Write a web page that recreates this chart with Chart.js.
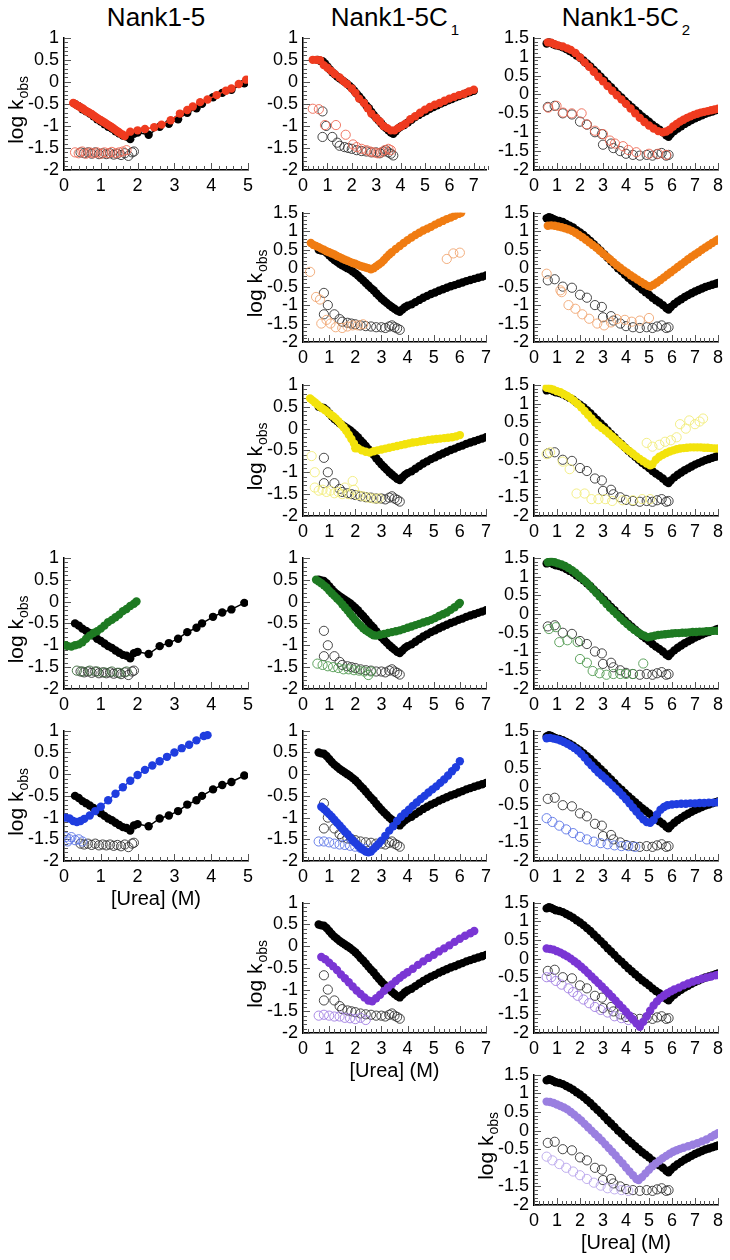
<!DOCTYPE html>
<html>
<head>
<meta charset="utf-8">
<script src="https://cdn.jsdelivr.net/npm/chart.js@4.4.1/dist/chart.umd.min.js"></script>
<style>
  body { margin: 0; background: #fff; }
  #page { position: relative; width: 730px; height: 1260px; overflow: hidden;
          font-family: "Liberation Sans", Arial, sans-serif; }
  .head { position: absolute; top: 0; width: 184px; text-align: center;
          font-size: 26px; line-height: 34px; color: #000; }
  .head span { font-size: 15px; vertical-align: -9px; margin-left: 3px; }
  canvas { position: absolute; }
</style>
</head>
<body>
<div id="page">
  <div class="head" style="left:64px">Nank1-5</div>
  <div class="head" style="left:303px">Nank1-5C<span>1</span></div>
  <div class="head" style="left:534px">Nank1-5C<span>2</span></div>
</div>
<script>
// ---- reference proteins (black), one per column ----
const nank15Fill = [[0.3,-0.5],[0.4,-0.55],[0.5,-0.62],[0.6,-0.67],[0.7,-0.72],[0.8,-0.78],[0.9,-0.85],[1.0,-0.9],[1.1,-0.96],[1.2,-1.02],[1.3,-1.06],[1.4,-1.12],[1.5,-1.17],[1.6,-1.22],[1.7,-1.24],[1.8,-1.3],[1.9,-1.18],[2.0,-1.15],[2.3,-1.2],[2.6,-1.02],[2.85,-0.95],[3.1,-0.85],[3.35,-0.7],[3.6,-0.6],[3.75,-0.5],[4.05,-0.35],[4.3,-0.25],[4.55,-0.18],[4.9,-0.03]];
const nank15Open = [[0.45,-1.6],[0.55,-1.62],[0.65,-1.6],[0.75,-1.63],[0.85,-1.6],[0.95,-1.64],[1.05,-1.62],[1.15,-1.64],[1.25,-1.62],[1.35,-1.65],[1.45,-1.63],[1.55,-1.66],[1.65,-1.62],[1.75,-1.68],[1.85,-1.6],[1.9,-1.58]];
const c1Fill = [[0.6,0.5],[0.7,0.48],[0.8,0.47],[0.9,0.42],[1.0,0.35],[1.1,0.28],[1.2,0.22],[1.3,0.17],[1.4,0.12],[1.5,0.08],[1.6,0.04],[1.7,0.0],[1.8,-0.04],[1.9,-0.09],[2.0,-0.14],[2.1,-0.2],[2.2,-0.27],[2.3,-0.33],[2.4,-0.4],[2.5,-0.47],[2.6,-0.54],[2.7,-0.6],[2.8,-0.68],[2.9,-0.75],[3.0,-0.82],[3.1,-0.88],[3.2,-0.94],[3.3,-1.0],[3.4,-1.05],[3.5,-1.1],[3.6,-1.15],[3.7,-1.18],[3.8,-1.12],[3.9,-1.06],[4.0,-1.02],[4.15,-0.98],[4.3,-0.92],[4.45,-0.86],[4.6,-0.8],[4.75,-0.75],[4.9,-0.7],[5.05,-0.66],[5.2,-0.61],[5.35,-0.57],[5.5,-0.53],[5.65,-0.49],[5.8,-0.46],[5.95,-0.42],[6.1,-0.39],[6.25,-0.35],[6.4,-0.32],[6.55,-0.29],[6.7,-0.26],[6.85,-0.23],[7.0,-0.2]];
const c1Open = [[0.8,-0.67],[0.95,-1.0],[0.8,-1.25],[1.2,-1.25],[1.4,-1.38],[1.5,-1.45],[1.7,-1.48],[1.85,-1.5],[2.0,-1.52],[2.2,-1.55],[2.4,-1.57],[2.6,-1.58],[2.8,-1.6],[3.0,-1.6],[3.15,-1.62],[3.3,-1.58],[3.4,-1.55],[3.5,-1.6],[3.6,-1.63],[3.7,-1.67]];
const c2Fill = [[0.55,1.35],[0.65,1.38],[0.75,1.36],[0.85,1.33],[0.95,1.3],[1.1,1.28],[1.25,1.25],[1.4,1.2],[1.55,1.15],[1.7,1.1],[1.85,1.03],[2.0,0.97],[2.15,0.9],[2.3,0.82],[2.45,0.74],[2.6,0.65],[2.75,0.56],[2.9,0.47],[3.05,0.38],[3.2,0.28],[3.35,0.19],[3.5,0.1],[3.65,0.0],[3.8,-0.08],[3.95,-0.17],[4.1,-0.26],[4.25,-0.34],[4.4,-0.42],[4.55,-0.5],[4.7,-0.58],[4.85,-0.65],[5.0,-0.72],[5.15,-0.8],[5.3,-0.87],[5.45,-0.93],[5.6,-1.0],[5.75,-1.08],[5.85,-1.12],[5.95,-1.05],[6.1,-0.97],[6.25,-0.9],[6.4,-0.84],[6.55,-0.78],[6.7,-0.73],[6.85,-0.68],[7.0,-0.63],[7.15,-0.59],[7.3,-0.55],[7.45,-0.51],[7.6,-0.48],[7.75,-0.45],[7.9,-0.42],[8.0,-0.4]];
const c2Open = [[0.6,-0.33],[0.9,-0.3],[1.25,-0.5],[1.65,-0.53],[2.0,-0.72],[2.3,-0.8],[2.65,-1.0],[2.95,-1.05],[3.0,-1.33],[3.35,-1.3],[3.45,-1.42],[3.75,-1.5],[4.0,-1.57],[4.3,-1.6],[4.6,-1.62],[4.9,-1.6],[5.15,-1.62],[5.35,-1.58],[5.55,-1.55],[5.75,-1.62],[5.85,-1.6]];

// ---- variants (coloured) ----
const redA = [[0.25,-0.48],[0.3,-0.5],[0.35,-0.53],[0.4,-0.55],[0.45,-0.58],[0.5,-0.6],[0.55,-0.63],[0.6,-0.66],[0.65,-0.68],[0.7,-0.71],[0.75,-0.73],[0.8,-0.76],[0.85,-0.79],[0.9,-0.82],[0.95,-0.85],[1.0,-0.87],[1.05,-0.9],[1.1,-0.92],[1.15,-0.95],[1.2,-0.98],[1.25,-1.0],[1.3,-1.03],[1.35,-1.06],[1.4,-1.09],[1.45,-1.12],[1.5,-1.15],[1.55,-1.18],[1.6,-1.2],[1.65,-1.23],[1.8,-1.13],[2.0,-1.1],[2.2,-1.07],[2.45,-1.03],[2.65,-0.97],[2.9,-0.87],[3.15,-0.72],[3.35,-0.64],[3.5,-0.56],[3.7,-0.46],[3.9,-0.4],[4.15,-0.3],[4.4,-0.2],[4.55,-0.15],[4.75,-0.05],[4.95,0.05]];
const redAOpen = [[0.3,-1.6],[0.4,-1.62],[0.5,-1.58],[0.6,-1.63],[0.7,-1.6],[0.8,-1.62],[0.9,-1.6],[1.0,-1.63],[1.1,-1.6],[1.2,-1.62],[1.3,-1.59],[1.4,-1.62],[1.5,-1.6],[1.6,-1.58],[1.7,-1.55]];
const redB = [[0.4,0.5],[0.55,0.5],[0.7,0.49],[0.85,0.38],[1.0,0.32],[1.15,0.25],[1.3,0.18],[1.5,0.1],[1.65,0.02],[1.8,-0.05],[2.0,-0.15],[2.15,-0.25],[2.3,-0.38],[2.5,-0.48],[2.65,-0.6],[2.8,-0.72],[3.0,-0.82],[3.15,-0.9],[3.3,-1.0],[3.45,-1.05],[3.6,-1.1],[3.75,-1.1],[3.9,-1.05],[4.05,-1.0],[4.2,-0.95],[4.4,-0.85],[4.6,-0.78],[4.8,-0.7],[5.0,-0.63],[5.2,-0.57],[5.4,-0.52],[5.6,-0.48],[5.8,-0.43],[6.0,-0.38],[6.2,-0.34],[6.4,-0.3],[6.6,-0.27],[6.8,-0.22],[7.0,-0.18]];
const redBOpen = [[0.4,-0.61],[0.65,-0.62],[0.9,-0.98],[1.35,-0.98],[1.75,-1.2],[2.05,-1.42],[2.2,-1.48],[2.4,-1.52],[2.6,-1.55],[2.75,-1.58],[2.9,-1.6],[3.05,-1.62],[3.2,-1.6],[3.35,-1.55],[3.5,-1.52],[3.6,-1.55]];
const redC = [[0.6,1.38],[0.75,1.37],[0.9,1.33],[1.05,1.3],[1.25,1.27],[1.45,1.22],[1.6,1.18],[1.8,1.1],[2.0,0.98],[2.2,0.85],[2.4,0.73],[2.6,0.6],[2.8,0.47],[3.0,0.35],[3.2,0.22],[3.4,0.1],[3.6,-0.02],[3.8,-0.13],[4.0,-0.25],[4.2,-0.37],[4.4,-0.5],[4.6,-0.62],[4.8,-0.73],[5.0,-0.82],[5.2,-0.9],[5.4,-0.97],[5.6,-1.0],[5.75,-0.98],[5.9,-0.93],[6.05,-0.85],[6.2,-0.78],[6.35,-0.72],[6.5,-0.67],[6.65,-0.62],[6.8,-0.58],[6.95,-0.54],[7.1,-0.51],[7.25,-0.48],[7.4,-0.46],[7.55,-0.44],[7.7,-0.42],[7.85,-0.4],[8.0,-0.38]];
const redCOpen = [[0.62,-0.35],[0.98,-0.3],[1.27,-0.48],[1.64,-0.5],[2.07,-0.5],[2.29,-0.79],[2.65,-0.96],[3.0,-1.05],[3.3,-1.22],[3.52,-1.3],[3.87,-1.37],[4.1,-1.47],[4.45,-1.53],[5.0,-1.57],[5.4,-1.57],[5.75,-1.6]];

const orangeB = [[0.3,0.68],[0.4,0.63],[0.5,0.6],[0.6,0.57],[0.7,0.53],[0.8,0.5],[0.9,0.46],[1.0,0.43],[1.1,0.4],[1.2,0.37],[1.3,0.33],[1.4,0.3],[1.5,0.26],[1.6,0.23],[1.7,0.2],[1.8,0.17],[1.9,0.14],[2.0,0.12],[2.1,0.09],[2.2,0.06],[2.3,0.04],[2.4,0.02],[2.5,0.0],[2.6,-0.03],[2.7,0.0],[2.8,0.05],[2.9,0.1],[3.0,0.15],[3.1,0.22],[3.2,0.3],[3.3,0.37],[3.4,0.43],[3.55,0.52],[3.7,0.6],[3.85,0.68],[4.0,0.76],[4.15,0.83],[4.3,0.9],[4.45,0.96],[4.6,1.02],[4.75,1.07],[4.9,1.12],[5.05,1.18],[5.2,1.23],[5.35,1.28],[5.5,1.33],[5.65,1.37],[5.8,1.42],[5.95,1.47],[6.05,1.5]];
const orangeBOpen = [[0.27,-0.1],[0.5,-0.78],[0.65,-0.85],[0.7,-1.5],[0.9,-1.4],[1.05,-1.5],[1.25,-1.6],[1.5,-1.62],[1.7,-1.58],[1.9,-1.55],[2.1,-1.55],[2.3,-1.52],[5.5,0.25],[5.75,0.4],[6.0,0.42]];
const orangeC = [[0.6,1.15],[0.75,1.16],[0.9,1.15],[1.05,1.13],[1.2,1.11],[1.35,1.08],[1.5,1.05],[1.65,1.01],[1.8,0.96],[1.95,0.9],[2.1,0.84],[2.25,0.77],[2.4,0.7],[2.55,0.63],[2.7,0.56],[2.85,0.48],[3.0,0.4],[3.15,0.32],[3.3,0.24],[3.45,0.16],[3.6,0.08],[3.75,0.01],[3.9,-0.06],[4.05,-0.12],[4.2,-0.19],[4.35,-0.25],[4.5,-0.31],[4.65,-0.37],[4.8,-0.43],[4.95,-0.48],[5.05,-0.5],[5.2,-0.45],[5.35,-0.39],[5.5,-0.32],[5.65,-0.25],[5.8,-0.18],[5.95,-0.11],[6.1,-0.04],[6.25,0.03],[6.4,0.1],[6.55,0.17],[6.7,0.24],[6.85,0.31],[7.0,0.37],[7.15,0.43],[7.3,0.5],[7.45,0.56],[7.6,0.62],[7.75,0.68],[7.9,0.74],[8.0,0.78]];
const orangeCOpen = [[0.55,-0.15],[1.15,-0.6],[1.2,-0.65],[1.5,-1.0],[1.8,-1.1],[2.1,-1.25],[2.4,-1.37],[2.75,-1.5],[3.05,-1.55],[3.35,-1.47],[3.6,-1.38],[3.95,-1.4],[4.25,-1.45],[4.6,-1.42],[5.0,-1.35]];

const yellowB = [[0.27,0.69],[0.35,0.65],[0.45,0.6],[0.55,0.55],[0.65,0.5],[0.75,0.46],[0.85,0.42],[0.95,0.37],[1.05,0.32],[1.15,0.28],[1.25,0.23],[1.35,0.17],[1.45,0.1],[1.55,0.03],[1.65,-0.05],[1.75,-0.14],[1.85,-0.24],[1.95,-0.34],[2.0,-0.45],[2.1,-0.45],[2.25,-0.5],[2.4,-0.53],[2.55,-0.55],[2.7,-0.52],[2.85,-0.5],[3.0,-0.48],[3.15,-0.46],[3.3,-0.44],[3.45,-0.42],[3.6,-0.4],[3.75,-0.38],[3.9,-0.36],[4.05,-0.34],[4.2,-0.32],[4.35,-0.31],[4.5,-0.29],[4.65,-0.28],[4.8,-0.26],[4.95,-0.25],[5.1,-0.24],[5.25,-0.23],[5.4,-0.22],[5.55,-0.21],[5.7,-0.2],[5.85,-0.18],[6.0,-0.15]];
const yellowBOpen = [[0.33,-0.63],[0.45,-1.0],[0.45,-1.35],[0.6,-1.42],[0.75,-1.4],[0.9,-1.45],[1.05,-1.42],[1.2,-1.48],[1.35,-1.45],[1.5,-1.5],[1.6,-1.35],[1.75,-1.5],[1.9,-1.2],[1.95,-1.4],[2.1,-1.52],[2.3,-1.55],[2.5,-1.58],[2.7,-1.6],[2.9,-1.6]];
const yellowC = [[0.55,1.42],[0.7,1.4],[0.85,1.37],[1.0,1.33],[1.15,1.3],[1.3,1.25],[1.45,1.2],[1.6,1.14],[1.75,1.07],[1.9,0.99],[2.05,0.9],[2.2,0.8],[2.35,0.7],[2.5,0.6],[2.65,0.5],[2.8,0.42],[2.95,0.35],[3.1,0.28],[3.25,0.2],[3.4,0.12],[3.55,0.04],[3.7,-0.04],[3.85,-0.12],[4.0,-0.2],[4.15,-0.27],[4.3,-0.34],[4.45,-0.41],[4.6,-0.48],[4.75,-0.54],[4.9,-0.6],[5.05,-0.65],[5.15,-0.62],[5.3,-0.5],[5.45,-0.42],[5.6,-0.37],[5.75,-0.32],[5.9,-0.28],[6.05,-0.25],[6.2,-0.22],[6.35,-0.2],[6.5,-0.19],[6.65,-0.18],[6.8,-0.17],[6.95,-0.17],[7.1,-0.17],[7.25,-0.17],[7.4,-0.18],[7.55,-0.18],[7.7,-0.19],[7.85,-0.2],[8.0,-0.2]];
const yellowCOpen = [[0.55,-0.35],[0.7,-0.3],[1.25,-0.55],[1.55,-0.75],[1.85,-1.4],[2.2,-1.4],[2.5,-1.55],[2.8,-1.55],[3.1,-1.55],[3.4,-1.6],[3.85,-1.58],[4.3,-1.58],[4.7,-1.55],[5.05,-1.55],[4.9,-0.05],[5.15,-0.15],[5.45,-0.1],[5.7,-0.02],[5.95,0.02],[6.2,0.1],[6.35,0.45],[6.6,0.33],[6.75,0.55],[7.0,0.45],[7.2,0.52],[7.35,0.6]];

const greenA = [[0.05,-1.0],[0.1,-1.02],[0.2,-1.03],[0.3,-1.0],[0.4,-0.98],[0.5,-0.93],[0.6,-0.85],[0.7,-0.78],[0.8,-0.72],[0.9,-0.68],[1.0,-0.62],[1.1,-0.55],[1.2,-0.47],[1.3,-0.42],[1.4,-0.36],[1.5,-0.3],[1.6,-0.22],[1.7,-0.17],[1.8,-0.1],[1.9,-0.05],[1.97,0.0]];
const greenAOpen = [[0.35,-1.58],[0.5,-1.6],[0.7,-1.58],[0.9,-1.6],[1.1,-1.62],[1.3,-1.6],[1.5,-1.63],[1.7,-1.6]];
const greenB = [[0.5,0.5],[0.6,0.46],[0.7,0.42],[0.8,0.37],[0.9,0.32],[1.0,0.25],[1.1,0.19],[1.2,0.13],[1.3,0.07],[1.4,0.01],[1.5,-0.06],[1.6,-0.13],[1.7,-0.2],[1.8,-0.28],[1.9,-0.35],[2.0,-0.42],[2.1,-0.49],[2.2,-0.55],[2.3,-0.61],[2.4,-0.66],[2.5,-0.7],[2.6,-0.74],[2.7,-0.77],[2.8,-0.78],[2.95,-0.76],[3.1,-0.74],[3.25,-0.72],[3.4,-0.7],[3.55,-0.68],[3.7,-0.66],[3.85,-0.63],[4.0,-0.6],[4.15,-0.57],[4.3,-0.54],[4.45,-0.51],[4.6,-0.48],[4.75,-0.45],[4.9,-0.42],[5.05,-0.38],[5.2,-0.33],[5.35,-0.29],[5.5,-0.25],[5.65,-0.19],[5.8,-0.13],[5.95,-0.06],[6.0,-0.03]];
const greenBOpen = [[0.55,-1.42],[0.75,-1.45],[0.95,-1.48],[1.15,-1.5],[1.35,-1.52],[1.55,-1.55],[1.75,-1.55],[1.95,-1.57],[2.15,-1.58],[2.35,-1.6],[2.5,-1.68],[2.6,-1.6]];
const greenC = [[0.6,1.38],[0.75,1.4],[0.9,1.38],[1.05,1.35],[1.2,1.32],[1.35,1.28],[1.5,1.23],[1.65,1.17],[1.8,1.1],[1.95,1.02],[2.1,0.94],[2.25,0.86],[2.4,0.77],[2.55,0.67],[2.7,0.57],[2.85,0.47],[3.0,0.37],[3.15,0.27],[3.3,0.17],[3.45,0.08],[3.6,-0.01],[3.75,-0.1],[3.9,-0.19],[4.05,-0.27],[4.2,-0.35],[4.35,-0.42],[4.5,-0.48],[4.65,-0.54],[4.8,-0.58],[4.95,-0.62],[5.1,-0.6],[5.25,-0.58],[5.4,-0.56],[5.55,-0.55],[5.7,-0.54],[5.85,-0.53],[6.0,-0.52],[6.15,-0.51],[6.3,-0.51],[6.45,-0.5],[6.6,-0.5],[6.75,-0.49],[6.9,-0.48],[7.05,-0.48],[7.2,-0.47],[7.35,-0.47],[7.5,-0.46],[7.65,-0.46],[7.8,-0.45],[7.95,-0.45]];
const greenCOpen = [[0.65,-0.4],[0.95,-0.35],[1.1,-0.75],[1.45,-0.7],[1.9,-0.75],[2.0,-1.2],[2.3,-1.3],[2.55,-1.52],[2.85,-1.58],[3.15,-1.62],[3.45,-1.6],[3.75,-1.6],[4.0,-1.6],[4.3,-1.6],[4.75,-1.32]];

const blueA = [[0.05,-1.0],[0.15,-1.02],[0.25,-1.08],[0.35,-1.1],[0.45,-1.08],[0.55,-1.03],[0.7,-0.95],[0.85,-0.85],[1.0,-0.75],[1.2,-0.6],[1.4,-0.45],[1.6,-0.3],[1.8,-0.15],[2.0,-0.02],[2.2,0.1],[2.4,0.2],[2.6,0.3],[2.8,0.4],[3.0,0.5],[3.2,0.6],[3.4,0.68],[3.6,0.78],[3.8,0.88],[3.9,0.9]];
const blueAOpen = [[0.05,-1.45],[0.1,-1.55],[0.15,-1.5],[0.2,-1.45],[0.3,-1.52],[0.4,-1.5],[0.5,-1.55]];
const blueB = [[0.7,-0.75],[0.8,-0.8],[0.9,-0.86],[1.0,-0.92],[1.1,-0.98],[1.2,-1.05],[1.3,-1.12],[1.4,-1.18],[1.5,-1.25],[1.6,-1.32],[1.7,-1.38],[1.8,-1.45],[1.9,-1.52],[2.0,-1.58],[2.1,-1.64],[2.2,-1.7],[2.3,-1.74],[2.4,-1.78],[2.5,-1.8],[2.6,-1.78],[2.7,-1.72],[2.8,-1.66],[2.9,-1.6],[3.0,-1.53],[3.15,-1.42],[3.3,-1.3],[3.45,-1.2],[3.6,-1.08],[3.75,-0.98],[3.9,-0.9],[4.05,-0.82],[4.2,-0.73],[4.35,-0.65],[4.5,-0.57],[4.65,-0.5],[4.8,-0.42],[4.95,-0.35],[5.1,-0.28],[5.25,-0.2],[5.4,-0.12],[5.55,-0.03],[5.7,0.07],[5.85,0.16],[6.0,0.3]];
const blueBOpen = [[0.6,-1.55],[0.8,-1.55],[1.0,-1.57],[1.2,-1.6],[1.4,-1.62],[1.6,-1.63],[1.8,-1.65],[2.0,-1.67],[2.2,-1.7],[2.4,-1.72]];
const blueC = [[0.55,1.3],[0.7,1.31],[0.85,1.29],[1.0,1.27],[1.15,1.24],[1.3,1.2],[1.45,1.15],[1.6,1.1],[1.75,1.04],[1.9,0.97],[2.05,0.88],[2.2,0.78],[2.35,0.67],[2.5,0.57],[2.65,0.47],[2.8,0.38],[2.95,0.3],[3.1,0.22],[3.25,0.13],[3.4,0.04],[3.55,-0.05],[3.7,-0.14],[3.85,-0.24],[4.0,-0.34],[4.15,-0.45],[4.3,-0.56],[4.45,-0.67],[4.6,-0.78],[4.75,-0.88],[4.9,-0.95],[5.05,-0.97],[5.2,-0.9],[5.35,-0.75],[5.5,-0.62],[5.65,-0.55],[5.8,-0.5],[6.0,-0.48],[6.2,-0.47],[6.4,-0.46],[6.6,-0.46],[6.8,-0.45],[7.0,-0.45],[7.2,-0.44],[7.4,-0.44],[7.6,-0.43],[7.8,-0.43],[8.0,-0.42]];
const blueCOpen = [[0.55,-0.85],[0.8,-0.95],[1.1,-1.05],[1.4,-1.15],[1.7,-1.25],[2.0,-1.35],[2.3,-1.42],[2.6,-1.48],[2.9,-1.52],[3.2,-1.55],[3.5,-1.58],[3.8,-1.6],[4.1,-1.6],[4.4,-1.62]];

const purpleB = [[0.7,-0.25],[0.85,-0.3],[1.0,-0.38],[1.15,-0.46],[1.3,-0.55],[1.45,-0.65],[1.6,-0.74],[1.75,-0.83],[1.9,-0.93],[2.05,-1.02],[2.2,-1.1],[2.35,-1.18],[2.5,-1.25],[2.65,-1.27],[2.8,-1.2],[2.95,-1.12],[3.1,-1.03],[3.25,-0.95],[3.4,-0.88],[3.55,-0.8],[3.7,-0.73],[3.85,-0.66],[4.0,-0.6],[4.2,-0.52],[4.4,-0.43],[4.6,-0.35],[4.8,-0.27],[5.0,-0.2],[5.2,-0.12],[5.4,-0.05],[5.6,0.02],[5.8,0.1],[6.0,0.17],[6.2,0.24],[6.4,0.3],[6.55,0.35]];
const purpleBOpen = [[0.6,-1.6],[0.8,-1.58],[1.0,-1.6],[1.2,-1.62],[1.4,-1.62],[1.6,-1.65],[1.8,-1.66],[2.0,-1.68],[2.2,-1.65],[2.4,-1.7]];
const purpleC = [[0.55,0.27],[0.7,0.26],[0.85,0.24],[1.0,0.2],[1.15,0.16],[1.3,0.11],[1.45,0.06],[1.6,0.0],[1.75,-0.07],[1.9,-0.14],[2.05,-0.22],[2.2,-0.3],[2.35,-0.39],[2.5,-0.48],[2.65,-0.57],[2.8,-0.66],[2.95,-0.75],[3.1,-0.84],[3.25,-0.94],[3.4,-1.03],[3.55,-1.13],[3.7,-1.23],[3.85,-1.33],[4.0,-1.43],[4.15,-1.53],[4.3,-1.63],[4.45,-1.74],[4.6,-1.83],[4.75,-1.7],[4.9,-1.55],[5.05,-1.4],[5.2,-1.26],[5.35,-1.15],[5.5,-1.06],[5.65,-0.99],[5.8,-0.93],[5.95,-0.88],[6.1,-0.83],[6.3,-0.78],[6.5,-0.72],[6.7,-0.67],[6.9,-0.62],[7.1,-0.58],[7.3,-0.54],[7.5,-0.51],[7.7,-0.48],[7.9,-0.45],[8.0,-0.44]];
const purpleCOpen = [[0.55,-0.5],[0.75,-0.5],[0.95,-0.6],[1.2,-0.7],[1.5,-0.8],[1.7,-0.9],[1.9,-1.0],[2.15,-1.1],[2.4,-1.2],[2.65,-1.3],[2.9,-1.38],[3.2,-1.45],[3.5,-1.55],[3.8,-1.6],[4.1,-1.65]];
const lilacC = [[0.55,0.78],[0.7,0.77],[0.85,0.74],[1.0,0.7],[1.15,0.66],[1.3,0.62],[1.45,0.57],[1.6,0.5],[1.75,0.43],[1.9,0.35],[2.05,0.27],[2.2,0.18],[2.35,0.09],[2.5,0.0],[2.65,-0.09],[2.8,-0.18],[2.95,-0.27],[3.1,-0.37],[3.25,-0.47],[3.4,-0.57],[3.55,-0.67],[3.7,-0.78],[3.85,-0.88],[4.0,-0.99],[4.15,-1.1],[4.3,-1.2],[4.45,-1.3],[4.55,-1.33],[4.7,-1.25],[4.85,-1.15],[5.0,-1.05],[5.15,-0.96],[5.3,-0.88],[5.45,-0.81],[5.6,-0.74],[5.75,-0.68],[5.9,-0.62],[6.05,-0.57],[6.2,-0.53],[6.35,-0.49],[6.5,-0.46],[6.7,-0.42],[6.9,-0.38],[7.1,-0.34],[7.3,-0.29],[7.5,-0.24],[7.7,-0.17],[7.85,-0.12],[8.0,-0.07]];
const lilacCOpen = [[0.55,-0.7],[0.8,-0.8],[1.1,-0.9],[1.4,-1.0],[1.7,-1.1],[2.0,-1.2],[2.3,-1.3],[2.6,-1.4],[2.9,-1.48],[3.2,-1.55],[3.5,-1.58],[3.8,-1.6],[4.1,-1.62]];

// panel grid
const colLeft = [64, 303, 534];
const colWidth = [184, 183, 184];
const rowTop = [36, 211, 383, 556, 729, 901, 1073];
const rowHeight = [134, 131, 133, 133, 132, 132, 132];
const refFill = [nank15Fill, c1Fill, c2Fill];
const refOpen = [nank15Open, c1Open, c2Open];
const xMaxCol = [5, 7, 8];

const panels = [
  {row: 0, col: 0, yMax: 1, color: "#ef3b1f", open: "#ee6a55", fill: redA, slow: redAOpen, yTitle: true},
  {row: 0, col: 1, yMax: 1, xMax: 7.5, color: "#ef3b1f", open: "#ee6a55", fill: redB, slow: redBOpen},
  {row: 0, col: 2, yMax: 1.5, color: "#ef3b1f", open: "#ee6a55", fill: redC, slow: redCOpen},
  {row: 1, col: 1, yMax: 1.5, color: "#f07c12", open: "#f0a672", fill: orangeB, slow: orangeBOpen, yTitle: true},
  {row: 1, col: 2, yMax: 1.5, color: "#f07c12", open: "#f0a672", fill: orangeC, slow: orangeCOpen},
  {row: 2, col: 1, yMax: 1, color: "#f3e30c", open: "#f2ec7a", fill: yellowB, slow: yellowBOpen, yTitle: true},
  {row: 2, col: 2, yMax: 1.5, color: "#f3e30c", open: "#f2ec7a", fill: yellowC, slow: yellowCOpen},
  {row: 3, col: 0, yMax: 1, color: "#1e7a22", open: "#3a6a3a", fill: greenA, slow: greenAOpen, yTitle: true},
  {row: 3, col: 1, yMax: 1, color: "#1e7a22", open: "#4f9a4f", fill: greenB, slow: greenBOpen},
  {row: 3, col: 2, yMax: 1.5, color: "#1e7a22", open: "#4f9a4f", fill: greenC, slow: greenCOpen},
  {row: 4, col: 0, yMax: 1, color: "#1f3ddf", open: "#5a74e6", fill: blueA, slow: blueAOpen, yTitle: true, xTitle: true},
  {row: 4, col: 1, yMax: 1, color: "#1f3ddf", open: "#5a74e6", fill: blueB, slow: blueBOpen},
  {row: 4, col: 2, yMax: 1.5, color: "#1f3ddf", open: "#5a74e6", fill: blueC, slow: blueCOpen},
  {row: 5, col: 1, yMax: 1, color: "#7a36d4", open: "#a07ee2", fill: purpleB, slow: purpleBOpen, yTitle: true, xTitle: true},
  {row: 5, col: 2, yMax: 1.5, color: "#7a36d4", open: "#a07ee2", fill: purpleC, slow: purpleCOpen},
  {row: 6, col: 2, yMax: 1.5, color: "#9a7fe0", open: "#b9a6ec", fill: lilacC, slow: lilacCOpen, yTitle: true, xTitle: true}
];

const FONT = '"Liberation Sans", Arial, sans-serif';
Chart.defaults.font.family = FONT;
Chart.defaults.color = "#000";

const YW = 62, PT = 14, PR = 16, XH = 58;

// inward major/minor tick marks
const tickMarks = {
  id: "tickMarks",
  beforeDatasetsDraw(chart) {
    const {ctx, chartArea: a, scales: {x, y}} = chart;
    ctx.save();
    ctx.strokeStyle = "#555";
    ctx.lineWidth = 1;
    ctx.beginPath();
    for (let i = 0; i <= Math.round(x.max * 5); i++) {
      const px = Math.round(x.getPixelForValue(i / 5)) + 0.5;
      const len = i % 5 === 0 ? 7 : 4;
      ctx.moveTo(px, a.bottom);
      ctx.lineTo(px, a.bottom - len);
    }
    for (let i = Math.round(y.min * 10); i <= Math.round(y.max * 10); i++) {
      const py = Math.round(y.getPixelForValue(i / 10)) + 0.5;
      const len = i % 5 === 0 ? 7 : 4;
      ctx.moveTo(a.left, py);
      ctx.lineTo(a.left + len, py);
    }
    ctx.stroke();
    ctx.restore();
  }
};

// "log k_obs" with a real subscript
const yTitle = {
  id: "yTitle",
  afterDraw(chart, args, opts) {
    if (!opts.show) return;
    const {ctx, chartArea: a} = chart;
    ctx.save();
    ctx.translate(a.left - 41, (a.top + a.bottom) / 2 + 6);
    ctx.rotate(-Math.PI / 2);
    ctx.fillStyle = "#000";
    ctx.textAlign = "left";
    ctx.textBaseline = "alphabetic";
    ctx.font = "21px " + FONT;
    const w1 = ctx.measureText("log k").width;
    ctx.font = "14px " + FONT;
    const w2 = ctx.measureText("obs").width;
    const start = -(w1 + w2 + 1) / 2;
    ctx.font = "21px " + FONT;
    ctx.fillText("log k", start, 0);
    ctx.font = "14px " + FONT;
    ctx.fillText("obs", start + w1 + 1, 5);
    ctx.restore();
  }
};

function filled(data, color) {
  return {data: data, showLine: true, borderColor: color, borderWidth: 1.5,
    pointRadius: 4.2, pointBackgroundColor: color, pointBorderColor: color, pointBorderWidth: 0};
}
function hollow(data, color) {
  return {data: data, showLine: false, pointRadius: 4.6,
    pointBackgroundColor: "rgba(0,0,0,0)", pointBorderColor: color, pointBorderWidth: 0.9};
}

const page = document.getElementById("page");
panels.forEach(function (p) {
  const w = YW + colWidth[p.col] + PR;
  const h = PT + rowHeight[p.row] + XH;
  const cv = document.createElement("canvas");
  cv.width = w; cv.height = h;
  cv.style.width = w + "px"; cv.style.height = h + "px";
  cv.style.left = (colLeft[p.col] - YW) + "px";
  cv.style.top = (rowTop[p.row] - PT) + "px";
  page.appendChild(cv);

  new Chart(cv, {
    type: "scatter",
    data: {
      datasets: [
        filled(p.fill, p.color),
        filled(refFill[p.col], "#000"),
        hollow(p.slow, p.open),
        hollow(refOpen[p.col], "#333")
      ]
    },
    options: {
      responsive: false,
      animation: false,
      events: [],
      layout: {padding: {left: 0, top: PT, right: PR, bottom: 0}},
      plugins: {legend: {display: false}, tooltip: {enabled: false}, yTitle: {show: !!p.yTitle}},
      scales: {
        x: {
          type: "linear", position: "bottom", min: 0, max: p.xMax || xMaxCol[p.col],
          grid: {display: false, drawTicks: false},
          border: {display: true, color: "#000", width: 1.5},
          ticks: {stepSize: 1, includeBounds: false, autoSkip: false, maxRotation: 0, padding: 5,
            font: {size: 18}, color: "#000",
            callback: function (v) { return Number.isInteger(v) ? String(v) : ""; }},
          title: {display: !!p.xTitle, text: "[Urea] (M)", font: {size: 20}, color: "#000",
            padding: {top: 0, bottom: 8}},
          afterFit: function (s) { s.height = XH; }
        },
        y: {
          type: "linear", min: -2, max: p.yMax,
          grid: {display: false, drawTicks: false},
          border: {display: true, color: "#000", width: 1.5},
          ticks: {stepSize: 0.5, autoSkip: false, padding: 5, font: {size: 18}, color: "#000",
            callback: function (v) { return String(Math.round(v * 10) / 10); }},
          afterFit: function (s) { s.width = YW; }
        }
      }
    },
    plugins: [tickMarks, yTitle]
  });
});
</script>
</body>
</html>
